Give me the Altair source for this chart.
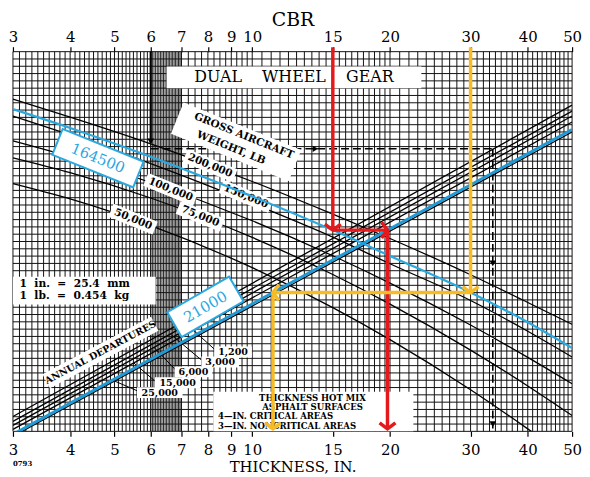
import altair as alt
import pandas as pd

# ---------------- values ----------------
tick_values = [3, 4, 5, 6, 7, 8, 9, 10, 15, 20, 30, 40, 50]
grid_steps = [(3, 6, 0.1), (7, 10, 0.25), (10, 20, 0.5), (20, 50, 1)]
dense_steps = [(6, 7, 0.05)]
grid_rows = list(range(0, 53))

# gross aircraft weight curves (y in chart grid units, 0 = bottom, 52 = top)
curve_x = [3, 4, 6, 10, 15, 20, 30, 40, 50]
weight_200000 = [45.49, 43.04, 39.38, 34.22, 29.74, 26.41, 21.45, 17.65, 14.66]
weight_150000 = [43.18, 40.60, 36.66, 31.23, 26.61, 22.95, 17.92, 13.71, 10.18]
weight_100000 = [39.78, 37.61, 34.08, 28.84, 24.05, 20.31, 14.56, 10.13, 6.52]
weight_75000 = [37.47, 35.44, 31.96, 26.56, 21.48, 17.43, 11.13, 6.22, 2.17]
weight_50000 = [33.94, 31.84, 28.17, 22.42, 16.95, 12.56, 5.70, 0.34, -4.09]
weight_164500 = [44.13, 41.55, 37.61, 32.18, 27.56, 24.03, 19.01, 14.94, 11.41]

# annual departure lines
dep_x = [3, 50]
dep_1200 = [2.04, 44.67]
dep_3000 = [1.36, 43.86]
dep_6000 = [0.81, 43.18]
dep_15000 = [0.27, 42.36]
dep_25000 = [-0.68, 41.00]
dep_21000 = [-0.41, 41.34]

weight_labels = ["200,000", "150,000", "100,000", "75,000", "50,000"]
dep_labels = ["1,200", "3,000", "6,000", "15,000", "25,000"]

# design examples
red_cbr, red_thick, red_level = 15, 19.75, 27.56
yel_cbr, yel_thick, yel_level = 30, 11.1, 19.01
ex_cbr, ex_thick, ex_level = 6, 33.55, 38.70

# ---------------- annotation placement (chart units) ----------------
weight_label_pos = [(8.09, 36.39), (9.69, 32.18), (6.63, 33.13), (7.70, 29.46), (5.49, 29.06)]
dep_label_pos = [(9.08, 10.86), (8.51, 9.50), (7.44, 8.15), (6.87, 6.65), (6.28, 5.30)]
leaders = [(7.08, 15.07, 8.26, 11.27), (6.63, 13.31, 7.74, 9.78), (6.09, 11.54, 6.80, 8.42),
           (5.51, 9.37, 6.12, 6.92), (4.99, 6.92, 5.60, 5.57)]

FONT = "DejaVu Serif"
BLUE = "#2aa8e0"
BLUE2 = "#1f9ad4"
RED = "#e5191b"
YEL = "#f7bb24"

xs = alt.Scale(type="log", domain=[3, 50], nice=False)
ys = alt.Scale(domain=[0, 52], nice=False, zero=False)


def X(f="x"):
    return alt.X(f"{f}:Q", scale=xs, axis=None)


def Y(f="y"):
    return alt.Y(f"{f}:Q", scale=ys, axis=None)


def steps_to_values(steps):
    vals = []
    for a, b, s in steps:
        n = int(round((b - a) / s))
        vals += [round(a + i * s, 3) for i in range(n)]
    return vals


grid_x = steps_to_values(grid_steps) + [6, 7, 50]
dense_x = steps_to_values(dense_steps)

axis_common = dict(values=tick_values, format="d", labelFlush=False, labelOverlap=False,
                   labelBound=False, domain=False, grid=False, ticks=True, tickSize=5,
                   tickColor="black", tickWidth=1.2, labelFont=FONT, labelFontSize=15,
                   labelColor="black", titleFont=FONT, titleFontWeight="normal", titleColor="black")
bottom_axis = alt.Axis(orient="bottom", title="THICKNESS, IN.", labelPadding=6,
                       titleFontSize=15, titlePadding=2, **axis_common)
top_axis = alt.Axis(orient="top", title="CBR", labelPadding=2, titleFontSize=19,
                    titlePadding=0, **axis_common)

vgrid = alt.Chart(pd.DataFrame({"x": grid_x})).mark_rule(color="#111", strokeWidth=1).encode(
    x=alt.X("x:Q", scale=xs, axis=bottom_axis))
vdense = alt.Chart(pd.DataFrame({"x": dense_x})).mark_rule(color="#111", strokeWidth=0.9).encode(x=X())
topaxis = alt.Chart(pd.DataFrame({"x": tick_values})).mark_rule(strokeOpacity=0).encode(
    x=alt.X("x:Q", scale=xs, axis=top_axis))
hgrid = alt.Chart(pd.DataFrame({"y": grid_rows})).mark_rule(color="#111", strokeWidth=1).encode(y=Y())

# white panels
rect_df = pd.DataFrame({"x1": [6.50, 3.0, 8.22], "x2": [23.42, 6.15, 22.5],
                        "y1": [49.98, 21.18, 5.43], "y2": [46.99, 17.38, 0.0]})
rects = alt.Chart(rect_df).mark_rect(color="white").encode(x=X("x1"), x2="x2:Q", y=Y("y1"), y2="y2:Q")

# black curves
rows = []
for name, vals in zip(weight_labels, [weight_200000, weight_150000, weight_100000, weight_75000, weight_50000]):
    for xv, yv in zip(curve_x, vals):
        rows.append({"s": "w" + name, "x": xv, "y": yv})
for name, vals in zip(dep_labels, [dep_1200, dep_3000, dep_6000, dep_15000, dep_25000]):
    for xv, yv in zip(dep_x, vals):
        rows.append({"s": "d" + name, "x": xv, "y": yv})
black = alt.Chart(pd.DataFrame(rows)).mark_line(clip=True, color="black", strokeWidth=1.3,
                                                  interpolate="monotone").encode(
    x=X(), y=Y(), detail="s:N")

lead_df = pd.DataFrame(leaders, columns=["x", "y", "x2", "y2"])
lead = alt.Chart(lead_df).mark_rule(color="black", strokeWidth=1).encode(x=X(), y=Y(), x2="x2:Q", y2="y2:Q")

# dashed example
ex_seg = pd.DataFrame({"x": [ex_cbr, ex_thick], "y": [ex_level, ex_level],
                       "x2": [ex_thick, ex_thick], "y2": [ex_level, 0.4]})
dashed = alt.Chart(ex_seg).mark_rule(color="black", strokeWidth=1.6, strokeDash=[8, 4]).encode(
    x=X(), y=Y(), x2="x2:Q", y2="y2:Q")
ex_top = alt.Chart(pd.DataFrame({"x": [ex_cbr], "y": [52], "y2": [39.5]})).mark_rule(
    color="black", strokeWidth=2.2).encode(x=X(), y=Y(), y2="y2:Q")
ex_heads = alt.Chart(pd.DataFrame({"x": [ex_cbr, ex_thick, ex_thick], "y": [39.7, 23.0, 1.0]})).mark_point(
    shape="triangle-down", filled=True, color="black", size=45, opacity=1).encode(x=X(), y=Y())
ex_head2 = alt.Chart(pd.DataFrame({"x": [13.74], "y": [ex_level]})).mark_point(
    shape="triangle-right", filled=True, color="black", size=40, opacity=1).encode(x=X(), y=Y())


def box_rows(items):
    out = []
    for (xv, yv, w, h, ang) in items:
        r = h / w
        out.append({"x": xv, "y": yv, "ang": ang, "size": w * w,
                    "path": f"M-1,{-r:.4f}L1,{-r:.4f}L1,{r:.4f}L-1,{r:.4f}Z"})
    return pd.DataFrame(out)


white_items = [(9.22, 39.65, 128, 34, 22)]
white_items += [(p[0], p[1], 54 if len(t) > 6 else 48, 14, 22) for p, t in zip(weight_label_pos, weight_labels)]
white_items += [(4.66, 10.8, 124, 16, 332)]
white_items += [(p[0], p[1], 46 if len(t) > 5 else 38, 11, 0) for p, t in zip(dep_label_pos, dep_labels)]
wboxes = alt.Chart(box_rows(white_items)).mark_point(filled=True, color="white", opacity=1).encode(
    x=X(), y=Y(), shape=alt.Shape("path:N", scale=None), size=alt.Size("size:Q", scale=None),
    angle=alt.Angle("ang:Q", scale=None))

blue_items = [(4.60, 37.41, 88, 28, 22), (7.90, 17.05, 72, 29, 330)]
bboxes = alt.Chart(box_rows(blue_items)).mark_point(filled=True, color="white", stroke=BLUE,
                                                     strokeWidth=2, opacity=1).encode(
    x=X(), y=Y(), shape=alt.Shape("path:N", scale=None), size=alt.Size("size:Q", scale=None),
    angle=alt.Angle("ang:Q", scale=None))

# blue design lines
bw = pd.DataFrame({"x": curve_x, "y": weight_164500})
blue_w = alt.Chart(bw).mark_line(clip=True, color=BLUE, strokeWidth=2.2, interpolate="monotone").encode(x=X(), y=Y())
bd = pd.DataFrame({"x": dep_x, "y": dep_21000})
blue_d = alt.Chart(bd).mark_line(clip=True, color=BLUE2, strokeWidth=3).encode(x=X(), y=Y())


# texts
def texts(df, **kw):
    enc = dict(x=X(), y=Y(), text="t:N")
    if "ang" in df.columns:
        enc["angle"] = alt.Angle("ang:Q", scale=None)
    return alt.Chart(df).mark_text(font=FONT, color="black", **kw).encode(**enc)


wl = pd.DataFrame({"x": [p[0] for p in weight_label_pos], "y": [p[1] for p in weight_label_pos],
                   "t": weight_labels, "ang": [22] * 5})
t_weight = texts(wl, fontSize=10.5, fontWeight="bold")
dl = pd.DataFrame({"x": [p[0] for p in dep_label_pos], "y": [p[1] for p in dep_label_pos], "t": dep_labels})
t_dep = texts(dl, fontSize=9.6, fontWeight="bold")
gross = pd.DataFrame({"x": [9.59, 8.99], "y": [40.46, 38.83],
                      "t": ["GROSS AIRCRAFT", "WEIGHT, LB"], "ang": [22, 22]})
t_gross = texts(gross, fontSize=10.5, fontWeight="bold")
annual = pd.DataFrame({"x": [4.66], "y": [10.8], "t": ["ANNUAL DEPARTURES"], "ang": [332]})
t_annual = texts(annual, fontSize=9.6, fontWeight="bold")
nb = "\u00a0"
gear = pd.DataFrame({"x": [12.34], "y": [48.55], "t": [f"DUAL{nb*4}WHEEL{nb*4}GEAR"]})
t_gear = texts(gear, fontSize=16)
units = pd.DataFrame({"x": [3.1, 3.1], "y": [20.23, 18.47],
                      "t": [f"1{nb*2}in.{nb*2}={nb*2}25.4{nb*2}mm", f"1{nb*2}lb.{nb*2}={nb*2}0.454{nb*2}kg"]})
t_units = texts(units, fontSize=10.8, fontWeight="bold", align="left")
surf_c = pd.DataFrame({"x": [13.54, 13.54], "y": [4.62, 3.33], "t": ["THICKNESS HOT MIX", "ASPHALT SURFACES"]})
t_surf_c = texts(surf_c, fontSize=8.6, fontWeight="bold")
surf_l = pd.DataFrame({"x": [8.42, 8.42], "y": [2.04, 0.75],
                       "t": ["4\u2014IN. CRITICAL AREAS", "3\u2014IN. NONCRITICAL AREAS"]})
t_surf_l = texts(surf_l, fontSize=8.6, fontWeight="bold", align="left")
code = pd.DataFrame({"x": [3.0], "y": [-4.5], "t": ["0793"]})
t_code = texts(code, fontSize=7, fontWeight="bold", align="left")
bt = pd.DataFrame({"x": [4.60, 7.90], "y": [37.41, 17.05], "t": ["164500", "21000"], "ang": [22, 330]})
t_blue = alt.Chart(bt).mark_text(font=FONT, fontSize=15, color=BLUE).encode(
    x=X(), y=Y(), text="t:N", angle=alt.Angle("ang:Q", scale=None))


# arrows
def arrow(color, cbr, level, thick):
    seg = pd.DataFrame({"x": [cbr, cbr, thick], "y": [52.6, level, level],
                        "x2": [cbr, thick, thick], "y2": [level, level, 0.35]})
    lines = alt.Chart(seg).mark_rule(color=color, strokeWidth=3.5).encode(x=X(), y=Y(), x2="x2:Q", y2="y2:Q")
    side = "M-0.75,-1L0,0L-0.75,1" if thick > cbr else "M0.75,-1L0,0L0.75,1"
    heads = pd.DataFrame({"x": [cbr, thick, thick], "y": [level, level, 0.35],
                          "path": ["M-1,-0.75L0,0L1,-0.75", side, "M-1,-0.75L0,0L1,-0.75"]})
    hd = alt.Chart(heads).mark_point(filled=False, color=color, strokeWidth=3.5, opacity=1, size=256).encode(
        x=X(), y=Y(), shape=alt.Shape("path:N", scale=None))
    return [lines, hd]


layers = [vgrid, vdense, topaxis, hgrid, rects, black, lead, dashed, ex_top, ex_heads, ex_head2,
          wboxes, t_weight, t_dep, t_gross, t_annual, blue_w, blue_d, bboxes, t_blue,
          t_gear, t_units, t_surf_c, t_surf_l, t_code]
layers += arrow(RED, red_cbr, red_level, red_thick)
layers += arrow(YEL, yel_cbr, yel_level, yel_thick)

chart = alt.layer(*layers).resolve_axis(x="independent").properties(
    width=564, height=383,
    autosize=alt.AutoSizeParams(type="none"),
    padding={"left": 5, "top": 42, "right": 10, "bottom": 43},
    background="white",
).configure_view(stroke="transparent")

chart.save("out.html", embed_options={"renderer": "svg", "actions": False})
